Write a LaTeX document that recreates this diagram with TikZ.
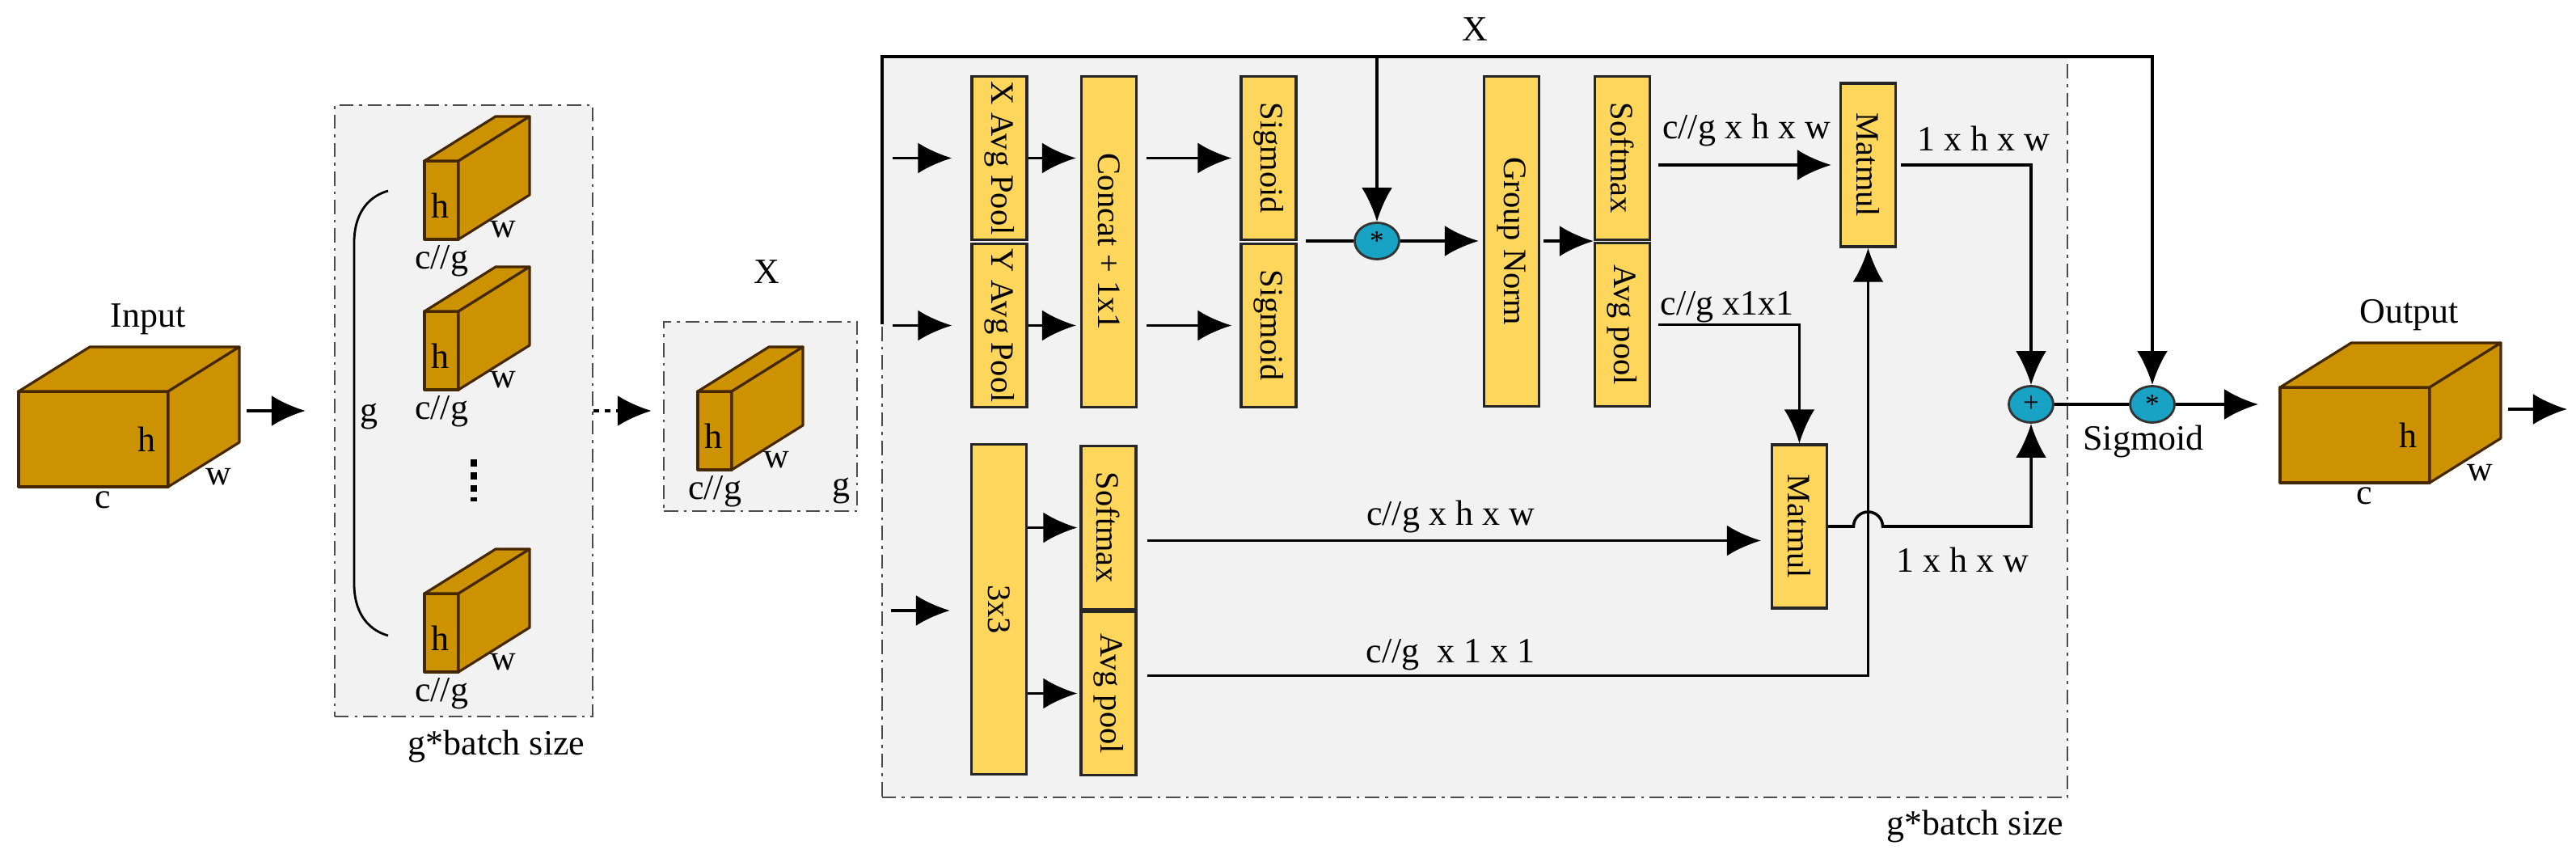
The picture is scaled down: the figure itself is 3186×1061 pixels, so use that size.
\documentclass[tikz,border=0pt]{standalone}
\usepackage{fontspec}
\setmainfont{Liberation Serif}
\usepackage{graphicx}
\usetikzlibrary{arrows.meta,shapes.geometric}

\definecolor{ocre}{RGB}{204,146,0}
\definecolor{brun}{RGB}{70,40,0}
\definecolor{jaune}{RGB}{255,214,92}
\definecolor{turquoise}{RGB}{24,163,196}
\definecolor{fond}{RGB}{242,242,242}

% pave : x, y (coin haut gauche de la face avant), largeur, hauteur
\newcommand{\pave}[4]{%
  \filldraw[brique] (#1,#2) rectangle ++(#3,#4);
  \filldraw[brique] (#1,#2) -- ++(88,-55) -- ++(#3,0) -- ++(-88,55) -- cycle;
  \filldraw[brique] (#1,#2) ++(#3,0) -- ++(88,-55) -- ++(0,#4) -- ++(-88,55) -- cycle;
}
% bloc : nom, x, y, titre
\newcommand{\bloc}[4]{%
  \pave{#2}{#3}{185}{118}
  \node[etiq] (#1h) at (#2+158,#3+59) {h};
  \node[etiq] (#1w) at (#2+247,#3+106) {w};
  \node[etiq] (#1c) at (#2+104,#3+134) {c};
  \node[etiq] (#1t) at (#2+160,#3-89) {#4};
  \coordinate (#1g) at (#2,#3+59);
  \coordinate (#1d) at (#2+273,#3+31);
}
% tranche : nom, x, y
\newcommand{\tranche}[3]{%
  \pave{#2}{#3}{42}{97}
  \node[etiq] (#1h) at (#2+19,#3+55) {h};
  \node[etiq] (#1w) at (#2+97,#3+85) {w};
  \node[etiq] (#1c) at (#2+21,#3+124) {c//g};
}

\begin{document}
\begin{tikzpicture}[x=0.01cm, y=-0.01cm]
	\tikzset{brique/.style={fill=ocre, draw=brun, line width=0.9pt, line join=round},
		etiq/.style={inner sep=0, font=\fontsize{12.5}{14}\selectfont},
		cadre/.style={draw=black!70, fill=fond, line width=0.6pt, dash pattern=on 5pt off 2pt on 1pt off 2pt},
		boite/.style={draw=black!85, fill=jaune, line width=0.9pt, inner sep=0, minimum width=0.68cm, font=\fontsize{11.5}{13}\selectfont},
		haute/.style={minimum height=4.08cm},
		demi/.style={minimum height=2.02cm},
		cercle/.style={ellipse, draw=black!80, fill=turquoise, line width=0.8pt, inner sep=0, minimum width=0.55cm, minimum height=0.45cm, font=\normalsize},
		trait/.style={line width=1pt},
		fleche/.style={trait, -{Latex[length=4.2mm, width=3.8mm]}},
		pointille/.style={dash pattern=on 2pt off 2pt}};

	\useasboundingbox (0,0) rectangle (3186,1061);

	\node[cadre, minimum width=3.19cm, minimum height=7.56cm] (groupe) at (573.5,508) {};
	\node[cadre, minimum width=2.39cm, minimum height=2.34cm] (xbox) at (940.5,515) {};
	\node[cadre, minimum width=14.66cm, minimum height=9.16cm] (grand) at (1824,528) {};

	\bloc{entree}{23}{484}{Input}
	\bloc{sortie}{2820}{479}{Output}

	\tranche{t1}{525}{199}
	\tranche{t2}{525}{385}
	\tranche{t3}{525}{734}
	\tranche{tx}{863}{484}

	\draw[line width=0.8pt] (480,236) .. controls (452,244) and (438,268) .. (438,300) -- (438,722) .. controls (438,754) and (452,778) .. (480,786);
	\draw[line width=2.2pt, dash pattern=on 2.5pt off 2pt] (586,568) -- (586,620);

	\node[etiq] (g1) at (456,515) {g};
	\node[etiq] (g2) at (1040,607) {g};
	\node[etiq] (x1) at (948,336) {X};
	\node[etiq] (x2) at (1824,36) {X};
	\node[etiq] (bs1) at (614,923) {g*batch size};
	\node[etiq] (bs2) at (2443,1022) {g*batch size};

	\coordinate (gh) at (1091,70);
	\coordinate (gb) at (1091,401);
	\coordinate (e33) at (1102,755);
	\coordinate (fin) at (3175,506);

	\node[boite, demi]  (xap)    at (1236,195.5)  {\rotatebox{-90}{X Avg Pool}};
	\node[boite, demi]  (yap)    at (1236,402.5)  {\rotatebox{-90}{Y Avg Pool}};
	\node[boite, haute] (concat) at (1371.5,299)  {\rotatebox{-90}{Concat + 1x1}};
	\node[boite, demi]  (sigh)   at (1569,195.5)  {\rotatebox{-90}{Sigmoid}};
	\node[boite, demi]  (sigb)   at (1569,402.5)  {\rotatebox{-90}{Sigmoid}};
	\node[cercle]       (mul1)   at (1703,298)    {*};
	\node[boite, haute] (gn)     at (1869.5,298.5) {\rotatebox{-90}{Group Norm}};
	\node[boite, demi]  (smh)    at (2006.5,195.5) {\rotatebox{-90}{Softmax}};
	\node[boite, demi]  (aph)    at (2006.5,401.5) {\rotatebox{-90}{Avg pool}};
	\node[boite, demi]  (mmh)    at (2310.5,204)  {\rotatebox{-90}{Matmul}};
	\node[boite, haute] (c33)    at (1235.5,753.5) {\rotatebox{-90}{3x3}};
	\node[boite, demi]  (smb)    at (1371,652.5)  {\rotatebox{-90}{Softmax}};
	\node[boite, demi]  (apb)    at (1371,857.5)  {\rotatebox{-90}{Avg pool}};
	\node[boite, demi]  (mmb)    at (2225.5,651)  {\rotatebox{-90}{Matmul}};
	\node[cercle]       (plus)   at (2512,500)    {+};
	\node[cercle]       (mul2)   at (2662,500)    {*};

	\node[etiq] (d1) at (2160,161) {c//g x h x w};
	\node[etiq] (d2) at (2136,380) {c//g x1x1};
	\node[etiq] (d3) at (2453,171) {1 x h x w};
	\node[etiq] (d4) at (1794,639) {c//g x h x w};
	\node[etiq] (d5) at (1794,810) {c//g\ \ x 1 x 1};
	\node[etiq] (d6) at (2427,692) {1 x h x w};
	\node[etiq] (sg) at (2651,546) {Sigmoid};

	\draw[fleche, shorten <=0.9mm, shorten >=3.5mm] (entreed |- groupe.west) -- (groupe.west);
	\draw[fleche, pointille, shorten >=1.4mm] (groupe.east) -- (groupe.east -| xbox.west);

	\draw[fleche] (gb) -- (gh) -| (mul2.north);
	\draw[fleche] (mul1 |- gh) -- (mul1.north);
	\draw[fleche, shorten <=1.3mm, shorten >=2.3mm] (gb |- xap) -- (xap.west);
	\draw[fleche, shorten <=1.3mm, shorten >=2.3mm] (gb |- yap) -- (yap.west);
	\draw[fleche, shorten >=2.5mm] (e33) -- (e33 -| c33.west);
	\draw[fleche, shorten >=0.5mm] (xap.east) -- (xap.east -| concat.west);
	\draw[fleche, shorten >=0.5mm] (yap.east) -- (yap.east -| concat.west);
	\draw[fleche, shorten <=1.1mm, shorten >=1mm] (concat.east |- sigh) -- (sigh.west);
	\draw[fleche, shorten <=1.1mm, shorten >=1mm] (concat.east |- sigb) -- (sigb.west);
	\draw[trait, shorten <=1mm] (sigh.south east |- mul1) -- (mul1.west);
	\draw[fleche, shorten >=0.5mm] (mul1.east) -- (mul1.east -| gn.west);
	\draw[fleche, shorten <=0.4mm] (gn.east |- smh.south) -- (gn.east |- smh.south -| smh.west);
	\draw[fleche, shorten <=0.9mm, shorten >=1mm] (smh.east |- mmh) -- (mmh.west);
	\draw[fleche, shorten <=0.9mm] (aph.east) -| (mmb.north);
	\draw[fleche, shorten <=0.5mm] (mmh.east) -| (plus.north);
	\draw[fleche, shorten >=0.3mm] (c33.east |- smb) -- (smb.west);
	\draw[fleche, shorten >=0.3mm] (c33.east |- apb) -- (apb.west);
	\draw[fleche, shorten <=1.2mm, shorten >=1.2mm] ([yshift=-1.6mm]smb.east) -- ([yshift=-1.6mm]smb.east -| mmb.west);
	\draw[fleche, shorten <=1.2mm] ([yshift=2.2mm]apb.east) -| (mmh.south);
	\draw[fleche] (mmb.east) -- ([xshift=-1.8mm]mmh.south |- mmb.east) arc[start angle=180, end angle=0, radius=1.8mm] -| (plus.south);
	\draw[trait] (plus.east) -- (mul2.west);
	\draw[fleche, shorten >=2.7mm] (mul2.east) -- (mul2.east -| sortieg);
	\draw[fleche, shorten <=0.9mm] (sortied |- fin) -- (fin);
\end{tikzpicture}
\end{document}
